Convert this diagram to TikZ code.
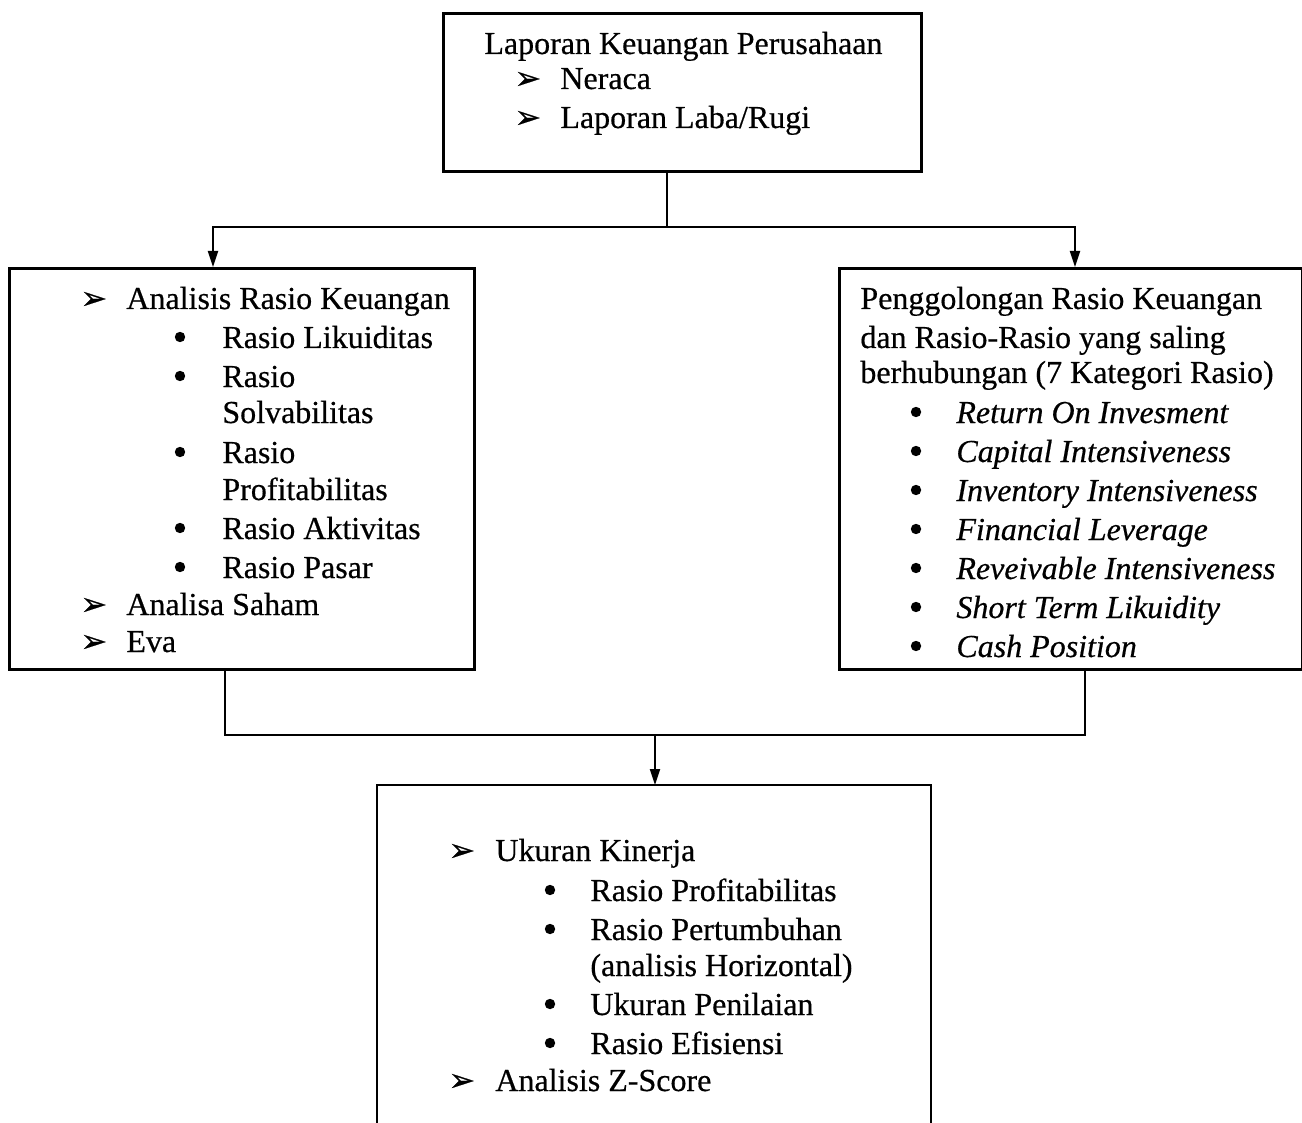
\documentclass[tikz,border=0pt]{standalone}
\usepackage{fontspec}
\setmainfont{Liberation Serif}[FakeBold=0.5]
\newfontfamily\symf{DejaVu Sans}[FakeBold=0.5]
\usetikzlibrary{arrows.meta,calc}
\begin{document}
\begin{tikzpicture}[x=0.5pt,y=-0.5pt,
  box/.style={draw,line width=1.4pt,rectangle,inner sep=0pt,anchor=north west},
  con/.style={line width=1pt},
  arr/.style={con,-{Triangle[length=8pt,width=5pt]}},
  txt/.style={anchor=base west,inner sep=0pt,font=\fontsize{16}{19}\selectfont},
  itx/.style={txt,font=\fontsize{16}{19}\selectfont\itshape},
  mk/.style={anchor=base west,inner sep=0pt,font=\symf\fontsize{16}{19}\selectfont},
  bl/.style={circle,fill,inner sep=0pt,minimum size=5.2pt,yshift=5.5pt}]
\useasboundingbox (0,0) rectangle (1302,1123);
% boxes
\node[box,minimum width=239pt,minimum height=79pt] (top) at (442,12) {};
\node[box,minimum width=232.5pt,minimum height=200.5pt] (left) at (8,267) {};
\node[box,minimum width=231.5pt,minimum height=200.5pt] (right) at (838,267) {};
\coordinate (bt) at (655,785);
\coordinate (bl) at (377,1130);
\coordinate (br) at (931,1130);
\draw[line width=1.4pt] (bl) |- (bt) -| (br);
% connectors
\coordinate (c1) at (667,0);
\coordinate (j1) at (667,227);
\coordinate (cL) at (213,0);
\coordinate (cR) at (1075,0);
\draw[con] (c1 |- top.south) -- (j1);
\draw[arr] (j1) -| (cL |- left.north);
\draw[arr] (j1) -| (cR |- right.north);
\coordinate (cL2) at (225,0);
\coordinate (cR2) at (1085,0);
\coordinate (j2) at (655,735);
\draw[con] (cL2 |- left.south) |- (j2) -| (cR2 |- right.south);
\draw[arr] (j2) -- (bt);
% top text
\node[txt] (t1) at (484,54) {Laporan Keuangan Perusahaan};
\node[mk] (t2m) at (514,89) {➢};
\node[txt] (t2) at (560,89) {Neraca};
\node[mk] (t3m) at (514,128) {➢};
\node[txt] (t3) at (560,128) {Laporan Laba/Rugi};
% left text
\node[mk] (l1m) at (80,309) {➢};
\node[txt] (l1) at (126,309) {Analisis Rasio Keuangan};
\node[bl] (l2b) at (180,348) {};
\node[txt] (l2) at (222,348) {Rasio Likuiditas};
\node[bl] (l3b) at (180,387) {};
\node[txt] (l3) at (222,387) {Rasio};
\node[txt] (l3a) at (222,423) {Solvabilitas};
\node[bl] (l4b) at (180,463) {};
\node[txt] (l4) at (222,463) {Rasio};
\node[txt] (l4a) at (222,500) {Profitabilitas};
\node[bl] (l5b) at (180,539) {};
\node[txt] (l5) at (222,539) {Rasio Aktivitas};
\node[bl] (l6b) at (180,578) {};
\node[txt] (l6) at (222,578) {Rasio Pasar};
\node[mk] (l7m) at (80,615) {➢};
\node[txt] (l7) at (126,615) {Analisa Saham};
\node[mk] (l8m) at (80,652) {➢};
\node[txt] (l8) at (126,652) {Eva};
% right text
\node[txt] (r1) at (860,309) {Penggolongan Rasio Keuangan};
\node[txt] (r2) at (860,348) {dan Rasio-Rasio yang saling};
\node[txt] (r3) at (860,383) {berhubungan (7 Kategori Rasio)};
\node[bl] (r4b) at (916,423) {};
\node[itx] (r4) at (956,423) {Return On Invesment};
\node[bl] (r5b) at (916,462) {};
\node[itx] (r5) at (956,462) {Capital Intensiveness};
\node[bl] (r6b) at (916,501) {};
\node[itx] (r6) at (956,501) {Inventory Intensiveness};
\node[bl] (r7b) at (916,540) {};
\node[itx] (r7) at (956,540) {Financial Leverage};
\node[bl] (r8b) at (916,579) {};
\node[itx] (r8) at (956,579) {Reveivable Intensiveness};
\node[bl] (r9b) at (916,618) {};
\node[itx] (r9) at (956,618) {Short Term Likuidity};
\node[bl] (r10b) at (916,657) {};
\node[itx] (r10) at (956,657) {Cash Position};
% bottom text
\node[mk] (b1m) at (448,861) {➢};
\node[txt] (b1) at (495,861) {Ukuran Kinerja};
\node[bl] (b2b) at (550,901) {};
\node[txt] (b2) at (590,901) {Rasio Profitabilitas};
\node[bl] (b3b) at (550,940) {};
\node[txt] (b3) at (590,940) {Rasio Pertumbuhan};
\node[txt] (b3a) at (590,976) {(analisis Horizontal)};
\node[bl] (b4b) at (550,1015) {};
\node[txt] (b4) at (590,1015) {Ukuran Penilaian};
\node[bl] (b5b) at (550,1054) {};
\node[txt] (b5) at (590,1054) {Rasio Efisiensi};
\node[mk] (b6m) at (448,1091) {➢};
\node[txt] (b6) at (495,1091) {Analisis Z-Score};
\end{tikzpicture}
\end{document}
